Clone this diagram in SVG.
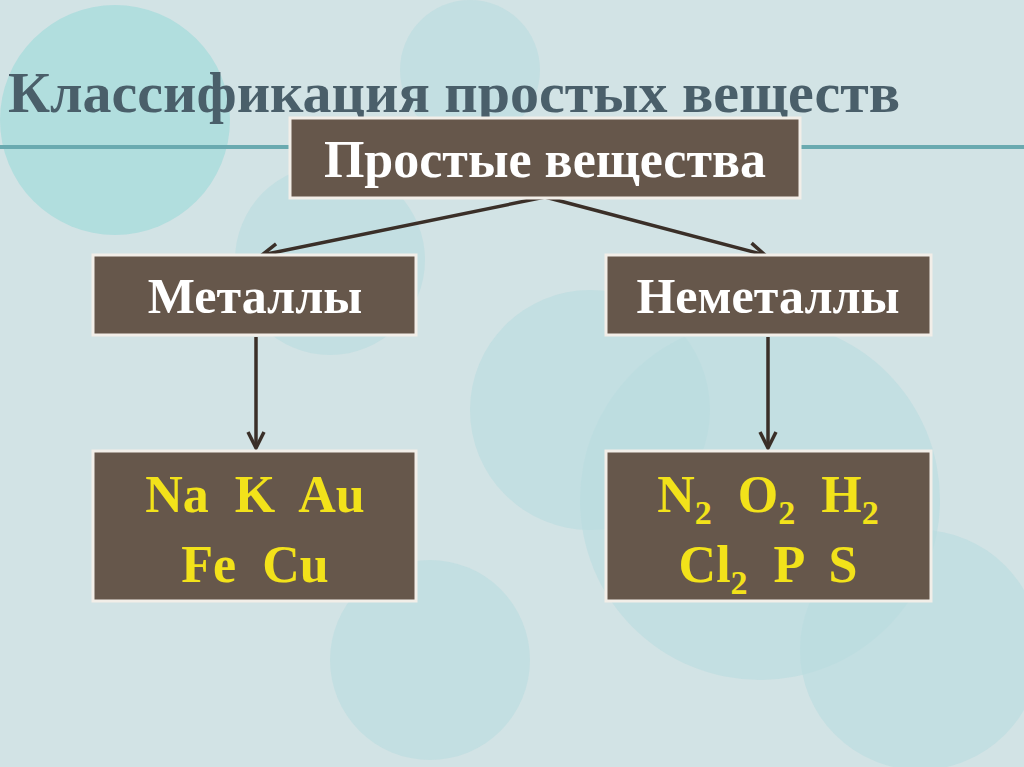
<svg xmlns="http://www.w3.org/2000/svg" width="1024" height="767" viewBox="0 0 1024 767">
<defs>
<style>
.box{fill:#66574b;stroke:#f2eee8;stroke-width:3}
.lbl{font-family:"Liberation Serif",serif;font-weight:bold;fill:#fff;text-anchor:middle}
.el{font-family:"Liberation Serif",serif;font-weight:bold;fill:#f2e21a;text-anchor:middle;font-size:52px;white-space:pre}
.c{fill:#b9dcdf;opacity:0.6}
</style>
<marker id="ah" viewBox="0 0 20 20" refX="18" refY="10" markerWidth="20" markerHeight="20" markerUnits="userSpaceOnUse" orient="auto"><path d="M2,2 L18,10 L2,18" fill="none" stroke="#3a2f28" stroke-width="3.5"/></marker>
</defs>
<rect width="1024" height="767" fill="#d2e3e5"/>
<circle cx="115" cy="120" r="115" fill="#a9dcdc" opacity="0.8"/>
<circle class="c" cx="330" cy="260" r="95"/>
<circle class="c" cx="590" cy="410" r="120"/>
<circle class="c" cx="760" cy="500" r="180"/>
<circle class="c" cx="430" cy="660" r="100"/>
<circle class="c" cx="920" cy="650" r="120"/>
<circle class="c" cx="470" cy="70" r="70"/>
<line x1="0" y1="147" x2="1024" y2="147" stroke="#6aaab0" stroke-width="4"/>
<text x="8" y="112" font-family="Liberation Serif,serif" font-weight="bold" font-size="58" fill="#4a5f6a">Классификация простых веществ</text>
<g id="connectors" stroke="#3a2f28" stroke-width="3.5" fill="none" marker-end="url(#ah)">
<line x1="545" y1="197" x2="262" y2="255"/>
<line x1="545" y1="197" x2="765" y2="255"/>
<line x1="256" y1="337" x2="256" y2="448"/>
<line x1="768" y1="337" x2="768" y2="448"/>
</g>
<g id="root"><rect class="box" x="290" y="118" width="510" height="80"/><text class="lbl" x="545" y="177" font-size="52">Простые вещества</text></g>
<g id="metals"><rect class="box" x="93" y="255" width="323" height="80"/><text class="lbl" x="255" y="313" font-size="50">Металлы</text></g>
<g id="nonmetals"><rect class="box" x="606" y="255" width="325" height="80"/><text class="lbl" x="768" y="313" font-size="50">Неметаллы</text></g>
<g id="metal-ex"><rect class="box" x="93" y="451" width="323" height="150"/><text class="el" x="255" y="512" xml:space="preserve">Na  K  Au</text><text class="el" x="255" y="582" xml:space="preserve">Fe  Cu</text></g>
<g id="nonmetal-ex"><rect class="box" x="606" y="451" width="325" height="150"/>
<text class="el" x="768" y="512" xml:space="preserve">N<tspan font-size="34" dy="12">2</tspan><tspan dy="-12">  O</tspan><tspan font-size="34" dy="12">2</tspan><tspan dy="-12">  H</tspan><tspan font-size="34" dy="12">2</tspan></text>
<text class="el" x="768" y="582" xml:space="preserve">Cl<tspan font-size="34" dy="12">2</tspan><tspan dy="-12">  P  S</tspan></text></g>
</svg>
